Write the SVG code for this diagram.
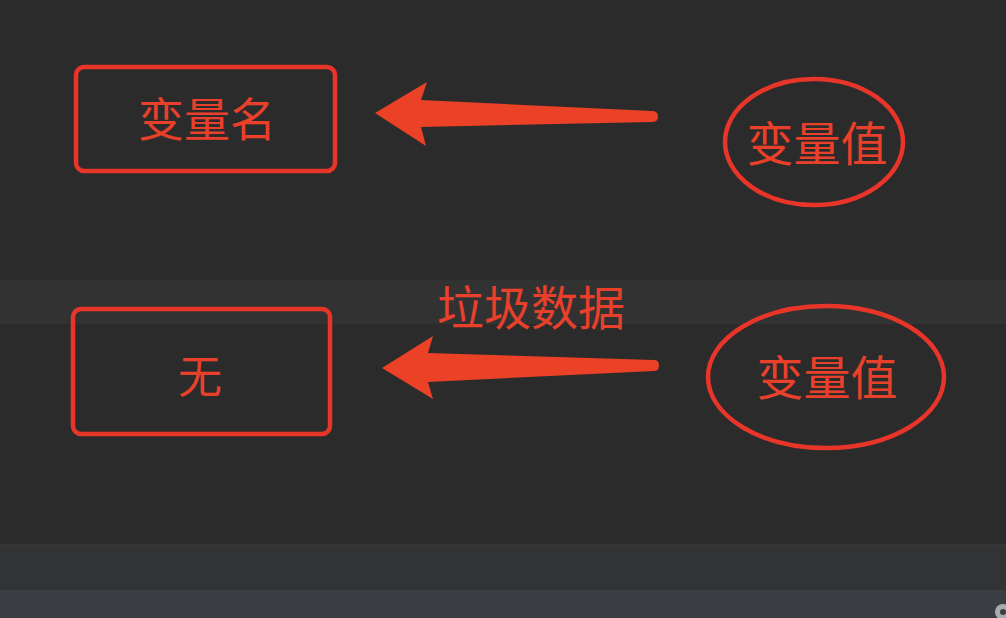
<svg xmlns="http://www.w3.org/2000/svg" width="1006" height="618" viewBox="0 0 1006 618">
<style>
.box{fill:none;stroke:#e8352a;stroke-width:4.5}
.lbl{fill:#e8402a;font-family:"Noto Sans CJK SC","Noto Sans CJK JP",sans-serif;text-anchor:middle;dominant-baseline:central}
.arrow{fill:#ea4127}
</style>
<rect x="0" y="0" width="1006" height="618" fill="#2b2b2b"/>
<rect x="0" y="280" width="1006" height="44" fill="#323232"/>
<rect x="0" y="544" width="1006" height="2" fill="#363636"/>
<rect x="0" y="546" width="1006" height="44" fill="#313335"/>
<rect x="0" y="590" width="1006" height="28" fill="#3a3e42"/>
<circle cx="1003" cy="612" r="8" fill="#a9acae"/>
<circle cx="1003" cy="612" r="3" fill="#3a3e42"/>
<g id="name-box">
<rect class="box" x="76" y="67" width="259" height="104" rx="8"/>
<text class="lbl" x="207" y="116" font-size="46">变量名</text>
</g>
<g id="value-1">
<ellipse class="box" cx="814" cy="142" rx="89" ry="63"/>
<text class="lbl" x="817" y="140" font-size="47">变量值</text>
</g>
<g id="none-box">
<rect class="box" x="73" y="309" width="257" height="125" rx="8"/>
<text class="lbl" x="200" y="374" font-size="44">无</text>
</g>
<g id="value-2">
<ellipse class="box" cx="826" cy="377" rx="118" ry="71"/>
<text class="lbl" x="827" y="374" font-size="47">变量值</text>
</g>
<g id="garbage">
<text class="lbl" x="531" y="304" font-size="47">垃圾数据</text>
</g>
<g id="connectors">
<path class="arrow" d="M375,113 L427,82 L421,100 L652,111 Q658,111 658,116.5 Q658,122 652,122 L421,127 L426,146 Z"/>
<path class="arrow" d="M382,368 L433,336 L428,353 L654,360 Q659,360 659,365.5 Q659,371 654,371 L428,382 L433,399 Z"/>
</g>
</svg>
